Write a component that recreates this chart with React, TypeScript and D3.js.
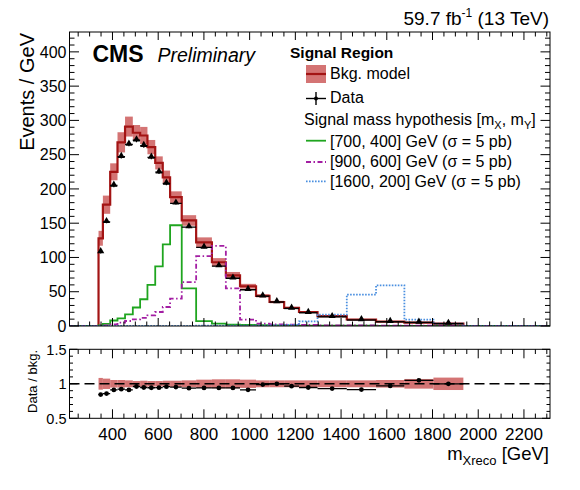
import React, { useEffect, useRef } from 'react';
import * as d3 from 'd3';

// variable bin edges of m_Xreco [GeV]
const binEdges = [339, 358, 390, 422, 455, 489, 521, 553, 587, 620, 652, 703, 766, 835, 896, 958, 1028, 1087, 1151, 1216, 1297, 1425, 1553, 1677, 1804, 1935];

// events / GeV
const bkgModel = [128, 177, 225, 268, 291, 282, 278, 261, 238, 217, 188, 154, 122, 93, 74, 58, 44, 35, 26.5, 20.4, 14.4, 9.5, 6.4, 5, 3.5];
const bkgRelUnc = [0.085, 0.075, 0.055, 0.055, 0.05, 0.04, 0.045, 0.04, 0.04, 0.045, 0.045, 0.05, 0.06, 0.065, 0.065, 0.06, 0.05, 0.05, 0.05, 0.05, 0.05, 0.05, 0.055, 0.07, 0.09];
const dataValues = [108, 152, 205, 247, 265, 271, 263, 246, 224.5, 208, 179, 144.3, 114.7, 87.4, 69.6, 52.9, 43.5, 35, 25.6, 19.3, 13.4, 8.7, 6.2, 5.25, 3.5];

const sig700_400 = [1, 3, 8, 11, 17, 27, 39, 60, 87, 119, 147, 55, 7, 3.5, 2, 1.5, 1.2, 1, 0.8, 0.6, 0.5, 0.4, 0.3, 0.2, 0.2];
const sig900_600 = [0.5, 1, 2.5, 4.9, 7.3, 9.8, 12, 15.6, 20.4, 27.7, 40, 64, 102, 117, 55, 9.3, 3.5, 2.5, 2, 1.5, 1, 0.8, 0.5, 0.4, 0.3];
const sig1600_200 = [0.2, 0.2, 0.2, 0.2, 0.2, 0.2, 0.2, 0.2, 0.3, 0.3, 0.3, 0.3, 0.4, 0.4, 0.5, 0.5, 0.6, 1, 1.5, 6.8, 16.6, 45.8, 59.4, 9.3, 3.5];

const xTickValues = [400, 600, 800, 1000, 1200, 1400, 1600, 1800, 2000, 2200];
const yTickValues = [0, 50, 100, 150, 200, 250, 300, 350, 400];
const ratioTickValues = [0.5, 1, 1.5];
const ratioTickLabels = ['0.5', '1', '1.5'];

const W = 580;
const H = 490;
const fL = 69.5;
const fR = 550;
const mainT = 32;
const mainB = 326;
const ratT = 349.3;
const ratB = 418.3;

const FONT = 'Liberation Sans, Arial, Helvetica, sans-serif';
const bkgLine = '#a31414';
const bkgBand = '#cd5c5c';

const App = () => {
  const container = useRef(null);

  useEffect(() => {
    draw();
  }, []);

  const draw = () => {
    const svg = d3.select(container.current);
    svg.selectAll('*').remove();

    const x = d3.scaleLinear().domain([212, 2314]).range([fL, fR]);
    const y = d3.scaleLinear().domain([0, 429]).range([mainB, mainT]);
    const r = d3.scaleLinear().domain([0.5, 1.5]).range([ratB, ratT]);

    const bins = bkgModel.map((v, i) => ({
      lo: binEdges[i],
      hi: binEdges[i + 1],
      bkg: v,
      unc: bkgRelUnc[i],
      data: dataValues[i]
    }));

    const defs = svg.append('defs');
    defs.append('clipPath').attr('id', 'mainclip')
      .append('rect').attr('x', fL).attr('y', mainT).attr('width', fR - fL).attr('height', mainB - mainT);
    defs.append('clipPath').attr('id', 'ratclip')
      .append('rect').attr('x', fL).attr('y', ratT).attr('width', fR - fL).attr('height', ratB - ratT);

    // ---------- main pad ----------
    const mainG = svg.append('g').attr('clip-path', 'url(#mainclip)');

    mainG.selectAll('.band')
      .data(bins)
      .join('rect')
      .attr('class', 'band')
      .attr('x', d => x(d.lo))
      .attr('width', d => x(d.hi) - x(d.lo))
      .attr('y', d => y(d.bkg * (1 + d.unc)))
      .attr('height', d => y(d.bkg * (1 - d.unc)) - y(d.bkg * (1 + d.unc)))
      .attr('fill', bkgBand)
      .attr('opacity', 0.85);

    const stepLine = d3.line()
      .x(d => x(d[0]))
      .y(d => y(d[1]))
      .curve(d3.curveStepAfter);

    const stepPoints = (vals, extend) => {
      const pts = [];
      if (extend) pts.push([x.domain()[0], 0]);
      else pts.push([binEdges[0], 0]);
      vals.forEach((v, i) => pts.push([binEdges[i], v]));
      pts.push([binEdges[binEdges.length - 1], vals[vals.length - 1]]);
      pts.push([binEdges[binEdges.length - 1], 0]);
      if (extend) pts.push([x.domain()[1], 0]);
      return pts;
    };

    const signals = [
      { vals: sig700_400, color: '#1fa51f', dash: null },
      { vals: sig900_600, color: '#a31ea3', dash: '5,2.5,1.5,2.5' },
      { vals: sig1600_200, color: '#4a8fe0', dash: '1.6,1.4' }
    ];

    mainG.append('path')
      .attr('d', stepLine(stepPoints(bkgModel, false)))
      .attr('fill', 'none')
      .attr('stroke', bkgLine)
      .attr('stroke-width', 2.2);

    signals.forEach(s => {
      mainG.append('path')
        .attr('d', stepLine(stepPoints(s.vals, true)))
        .attr('fill', 'none')
        .attr('stroke', s.color)
        .attr('stroke-width', 1.8)
        .attr('stroke-dasharray', s.dash);
    });

    // data
    const dataG = mainG.append('g');
    dataG.selectAll('.hbar')
      .data(bins)
      .join('line')
      .attr('x1', d => x(d.lo))
      .attr('x2', d => x(d.hi))
      .attr('y1', d => y(d.data))
      .attr('y2', d => y(d.data))
      .attr('stroke', '#000')
      .attr('stroke-width', 1.4);
    dataG.selectAll('.vbar')
      .data(bins)
      .join('line')
      .attr('x1', d => x((d.lo + d.hi) / 2))
      .attr('x2', d => x((d.lo + d.hi) / 2))
      .attr('y1', d => y(d.data + Math.sqrt(d.data / (d.hi - d.lo))))
      .attr('y2', d => y(d.data - Math.sqrt(d.data / (d.hi - d.lo))))
      .attr('stroke', '#000')
      .attr('stroke-width', 1.2);
    dataG.selectAll('.mark')
      .data(bins)
      .join('path')
      .attr('d', d3.symbol().type(d3.symbolTriangle).size(22))
      .attr('transform', d => `translate(${x((d.lo + d.hi) / 2)},${y(d.data) - 0.8})`)
      .attr('fill', '#000');

    // ---------- ratio pad ----------
    const ratG = svg.append('g').attr('clip-path', 'url(#ratclip)');
    ratG.selectAll('.rband')
      .data(bins)
      .join('rect')
      .attr('x', d => x(d.lo))
      .attr('width', d => x(d.hi) - x(d.lo))
      .attr('y', d => r(1 + d.unc))
      .attr('height', d => r(1 - d.unc) - r(1 + d.unc))
      .attr('fill', bkgBand)
      .attr('opacity', 0.85);
    ratG.append('line')
      .attr('x1', fL).attr('x2', fR)
      .attr('y1', r(1)).attr('y2', r(1))
      .attr('stroke', '#000')
      .attr('stroke-width', 1.5)
      .attr('stroke-dasharray', '10,5');
    ratG.selectAll('.rh')
      .data(bins)
      .join('line')
      .attr('x1', d => x(d.lo))
      .attr('x2', d => x(d.hi))
      .attr('y1', d => r(d.data / d.bkg))
      .attr('y2', d => r(d.data / d.bkg))
      .attr('stroke', '#000')
      .attr('stroke-width', 1.3);
    ratG.selectAll('.rp')
      .data(bins)
      .join('circle')
      .attr('cx', d => x((d.lo + d.hi) / 2))
      .attr('cy', d => r(d.data / d.bkg))
      .attr('r', 2.4)
      .attr('fill', '#000');

    // ---------- frames and ticks ----------
    const axG = svg.append('g').attr('stroke', '#000').attr('stroke-width', 1);

    const drawFrame = (top, bottom) => {
      axG.append('rect')
        .attr('x', fL).attr('y', top)
        .attr('width', fR - fL).attr('height', bottom - top)
        .attr('fill', 'none');
    };
    drawFrame(mainT, mainB);
    drawFrame(ratT, ratB);

    const xMinor = d3.range(250, 2314, 50);
    const xTicks = (top, bottom, major, minor) => {
      xMinor.forEach(v => {
        const len = v % 200 === 0 ? major : minor;
        axG.append('line').attr('x1', x(v)).attr('x2', x(v)).attr('y1', bottom).attr('y2', bottom - len);
        axG.append('line').attr('x1', x(v)).attr('x2', x(v)).attr('y1', top).attr('y2', top + len);
      });
    };
    xTicks(mainT, mainB, 8, 4.5);
    xTicks(ratT, ratB, 9, 4.7);

    d3.range(0, 429, 10).forEach(v => {
      const len = v % 50 === 0 ? 9.5 : 5;
      axG.append('line').attr('x1', fL).attr('x2', fL + len).attr('y1', y(v)).attr('y2', y(v));
      axG.append('line').attr('x1', fR).attr('x2', fR - len).attr('y1', y(v)).attr('y2', y(v));
    });
    d3.range(5, 16, 1).forEach(k => {
      const v = k / 10;
      const len = k % 5 === 0 ? 8 : 3.5;
      axG.append('line').attr('x1', fL).attr('x2', fL + len).attr('y1', r(v)).attr('y2', r(v));
      axG.append('line').attr('x1', fR).attr('x2', fR - len).attr('y1', r(v)).attr('y2', r(v));
    });

    // ---------- tick labels ----------
    const txt = svg.append('g').attr('font-family', FONT).attr('fill', '#000');

    txt.selectAll('.ylab')
      .data(yTickValues)
      .join('text')
      .attr('x', fL - 3)
      .attr('y', d => y(d))
      .attr('dy', '0.36em')
      .attr('text-anchor', 'end')
      .attr('font-size', 16)
      .text(d => d);

    txt.selectAll('.rlab')
      .data(ratioTickValues)
      .join('text')
      .attr('x', fL - 3)
      .attr('y', d => r(d))
      .attr('dy', '0.36em')
      .attr('text-anchor', 'end')
      .attr('font-size', 14.5)
      .text((d, i) => ratioTickLabels[i]);

    txt.selectAll('.xlab')
      .data(xTickValues)
      .join('text')
      .attr('x', d => x(d))
      .attr('y', 439.5)
      .attr('text-anchor', 'middle')
      .attr('font-size', 17)
      .text(d => d);

    // axis titles
    txt.append('text')
      .attr('transform', 'translate(33.5,33) rotate(-90)')
      .attr('text-anchor', 'end')
      .attr('font-size', 20)
      .text('Events / GeV');
    txt.append('text')
      .attr('transform', 'translate(36.5,350) rotate(-90)')
      .attr('text-anchor', 'end')
      .attr('font-size', 13)
      .text('Data / bkg.');

    const xt = txt.append('text')
      .attr('x', 549)
      .attr('y', 460)
      .attr('text-anchor', 'end')
      .attr('font-size', 18.5);
    xt.append('tspan').text('m');
    xt.append('tspan').attr('font-size', 13).attr('dy', 5).text('Xreco');
    xt.append('tspan').attr('dy', -5).text(' [GeV]');

    // header
    const lumi = txt.append('text')
      .attr('x', 549)
      .attr('y', 24.5)
      .attr('text-anchor', 'end')
      .attr('font-size', 19);
    lumi.append('tspan').text('59.7 fb');
    lumi.append('tspan').attr('font-size', 12).attr('dy', -8).text('-1');
    lumi.append('tspan').attr('dy', 8).text(' (13 TeV)');

    txt.append('text')
      .attr('x', 92.5).attr('y', 61.7)
      .attr('font-size', 23).attr('font-weight', 'bold')
      .text('CMS');
    txt.append('text')
      .attr('x', 157.5).attr('y', 62)
      .attr('font-size', 19.5).attr('font-style', 'italic')
      .text('Preliminary');

    // ---------- legend ----------
    const lg = svg.append('g').attr('font-family', FONT).attr('font-size', 16);
    lg.append('text').attr('x', 290).attr('y', 58.3).attr('font-size', 15.5).attr('font-weight', 'bold').text('Signal Region');

    lg.append('rect').attr('x', 306).attr('y', 65).attr('width', 20).attr('height', 18).attr('fill', bkgBand).attr('opacity', 0.85);
    lg.append('line').attr('x1', 306).attr('x2', 326).attr('y1', 74).attr('y2', 74).attr('stroke', bkgLine).attr('stroke-width', 2.2);
    lg.append('text').attr('x', 330).attr('y', 79.3).text('Bkg. model');

    lg.append('line').attr('x1', 306).attr('x2', 326).attr('y1', 98.5).attr('y2', 98.5).attr('stroke', '#000').attr('stroke-width', 1.4);
    lg.append('line').attr('x1', 316).attr('x2', 316).attr('y1', 92).attr('y2', 105).attr('stroke', '#000').attr('stroke-width', 1.4);
    lg.append('circle').attr('cx', 316).attr('cy', 98.5).attr('r', 2).attr('fill', '#000');
    lg.append('text').attr('x', 330).attr('y', 102.7).text('Data');

    const sm = lg.append('text').attr('x', 304).attr('y', 125);
    sm.append('tspan').text('Signal mass hypothesis [m');
    sm.append('tspan').attr('font-size', 11).attr('dy', 4).text('X');
    sm.append('tspan').attr('dy', -4).text(', m');
    sm.append('tspan').attr('font-size', 11).attr('dy', 4).text('Y');
    sm.append('tspan').attr('dy', -4).text(']');

    const sigLabels = ['[700, 400] GeV (σ = 5 pb)', '[900, 600] GeV (σ = 5 pb)', '[1600, 200] GeV (σ = 5 pb)'];
    const sigLineY = [140.7, 162, 181.3];
    const sigTextY = [146.7, 166.7, 186.7];
    signals.forEach((s, i) => {
      lg.append('line')
        .attr('x1', 306).attr('x2', 326)
        .attr('y1', sigLineY[i]).attr('y2', sigLineY[i])
        .attr('stroke', s.color).attr('stroke-width', 1.8)
        .attr('stroke-dasharray', s.dash);
      lg.append('text').attr('x', 330).attr('y', sigTextY[i]).text(sigLabels[i]);
    });
  };

  return (
    <svg
      ref={container}
      width={W}
      height={H}
      style={{ position: 'absolute', left: 0, top: 0, background: '#fff' }}
    ></svg>
  );
};

export default App;
